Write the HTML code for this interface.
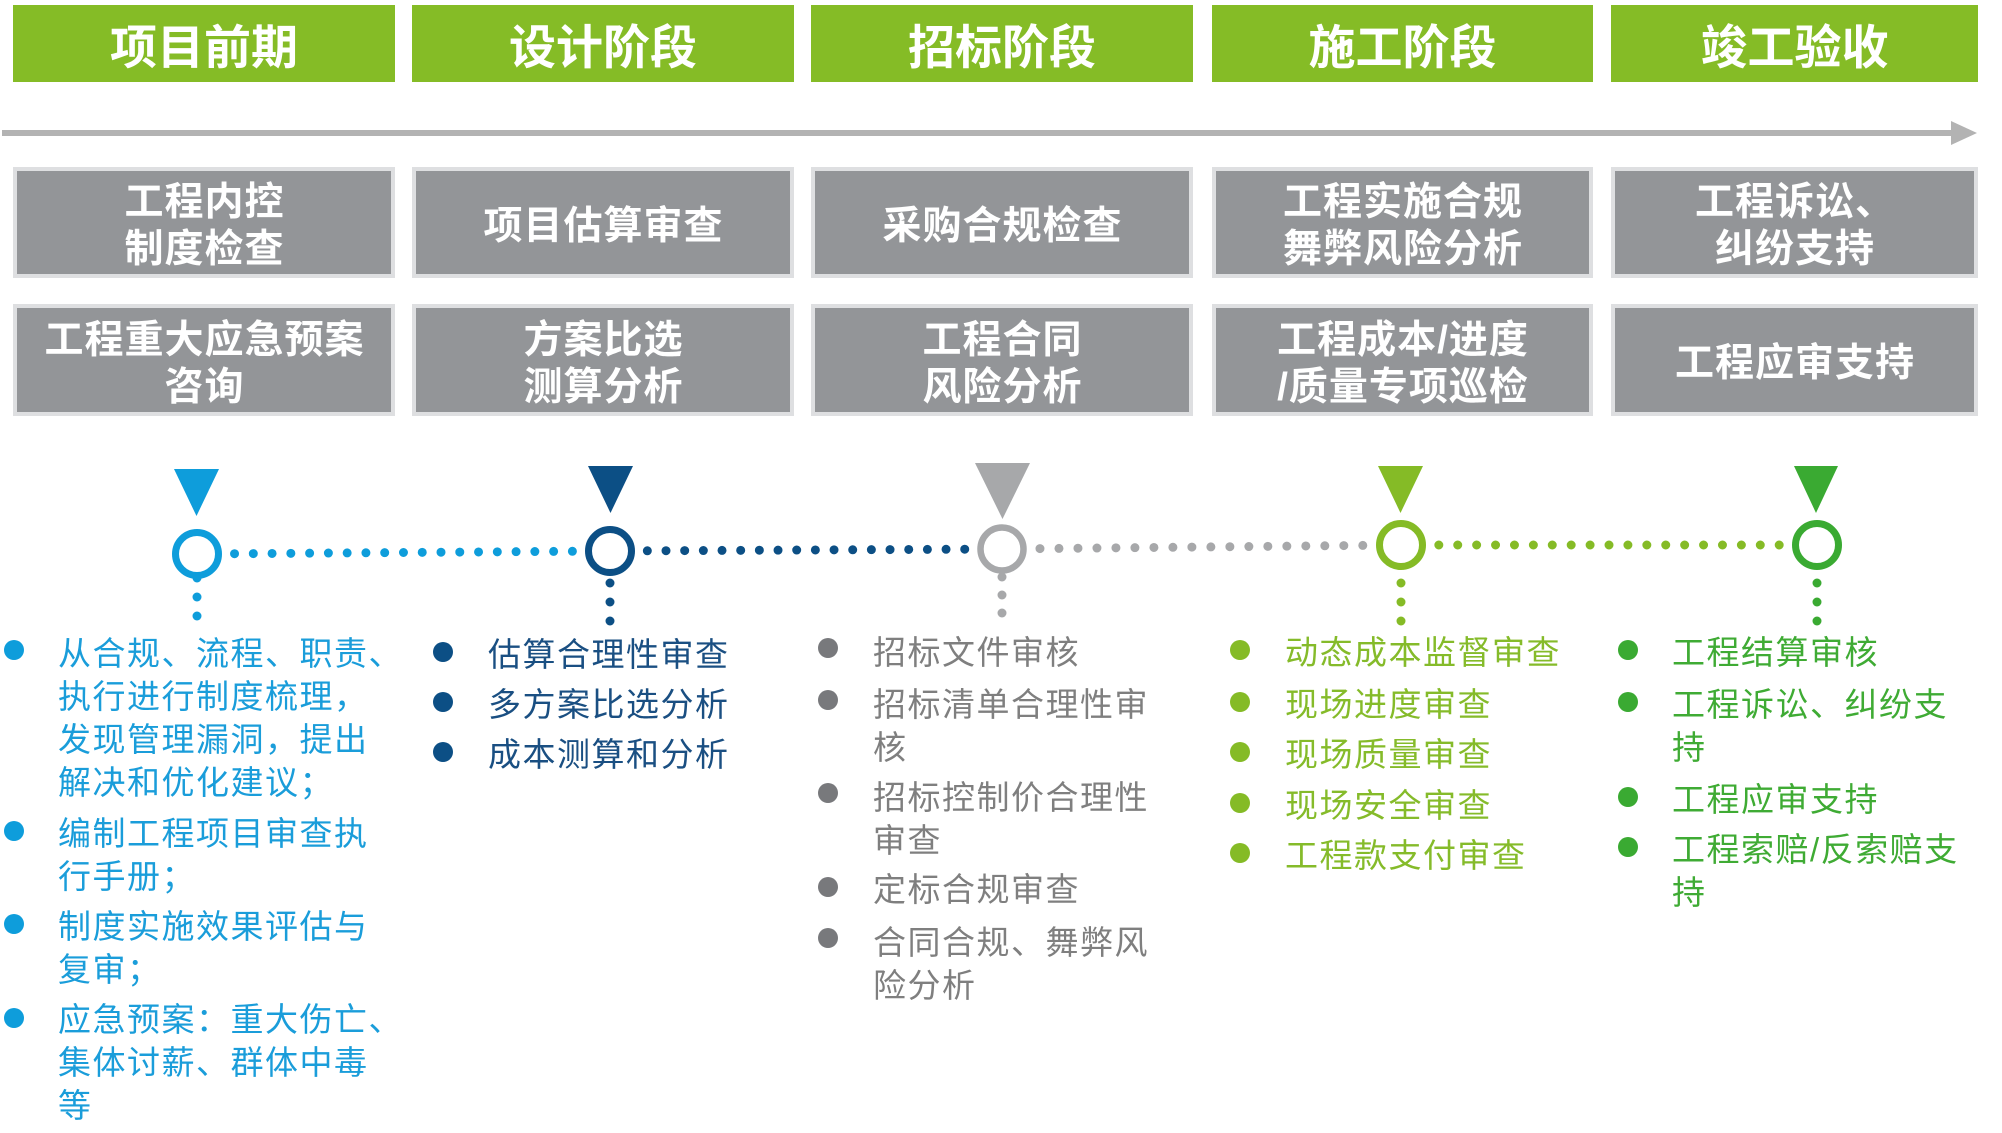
<!DOCTYPE html>
<html>
<head>
<meta charset="utf-8">
<style>
  html, body { margin:0; padding:0; }
  body { width:2002px; height:1133px; position:relative; overflow:hidden; background:#ffffff;
         font-family:"Liberation Sans","Noto Sans CJK SC",sans-serif; }
  .hdr { position:absolute; top:5px; height:77px; background:#85bc26; color:#fff;
         font-family:"Liberation Sans","Noto Sans CJK SC",sans-serif; font-weight:700; font-size:47px;
         display:flex; align-items:center; justify-content:center; line-height:1; padding-top:7px; box-sizing:border-box; }
  .gbox { position:absolute; background:#939598; border:4px solid #dedfe1; box-sizing:border-box; color:#fff;
          font-family:"Liberation Sans","Noto Sans CJK SC",sans-serif; font-weight:700; font-size:39px; letter-spacing:1px;
          line-height:47px; display:flex; align-items:center; justify-content:center; text-align:center;
          padding-top:7px; padding-left:1px; }
  .r1 { top:167px; height:111px; }
  .r2 { top:304px; height:112px; }
  .c1 { left:13px; width:382px; }
  .c2 { left:412px; width:382px; }
  .c3 { left:811px; width:382px; }
  .c4 { left:1212px; width:381px; }
  .c5 { left:1611px; width:367px; }
  .item { position:absolute; font-family:"Liberation Sans","Noto Sans CJK SC",sans-serif; font-weight:400;
          font-size:33px; letter-spacing:1.5px; line-height:43px; white-space:nowrap; }
  .dot { position:absolute; width:20px; height:20px; border-radius:50%; }
  .blue { color:#1a9dda; } .bblue { background:#0e9ddb; }
  .dblue { color:#1a4f82; } .bdblue { background:#0c4f85; }
  .gray { color:#7f7f7f; } .bgray { background:#78797c; }
  .lg { color:#85bb2a; } .blg { background:#85bb26; }
  .dg { color:#3fab34; } .bdg { background:#3aaa32; }
</style>
</head>
<body>

<!-- Header stage boxes -->
<div class="hdr c1">项目前期</div>
<div class="hdr c2">设计阶段</div>
<div class="hdr c3">招标阶段</div>
<div class="hdr c4">施工阶段</div>
<div class="hdr c5">竣工验收</div>

<!-- Timeline arrow + markers -->
<svg style="position:absolute;left:0;top:0" width="2002" height="1133" viewBox="0 0 2002 1133">
  <rect x="2" y="130" width="1953" height="6" fill="#b3b3b3"/>
  <polygon points="1951,121 1977,133 1951,145" fill="#b3b3b3"/>

  <!-- triangles -->
  <polygon points="174,469 219,469 196.5,516" fill="#0e9ddb"/>
  <polygon points="588,466 633,466 610.5,513" fill="#0c4f85"/>
  <polygon points="975,463 1030,463 1002.5,519" fill="#a7a8aa"/>
  <polygon points="1378,466 1423,466 1400.5,513" fill="#85bb26"/>
  <polygon points="1794,466 1838,466 1816,513" fill="#3aaa32"/>

  <!-- horizontal dotted connectors -->
  <g stroke-width="9" stroke-linecap="round" fill="none">
    <line x1="178" y1="554" x2="197" y2="554" stroke="#0e9ddb" stroke-dasharray="0 18.7"/>
    <line x1="197" y1="554" x2="610" y2="551" stroke="#0e9ddb" stroke-dasharray="0 18.77"/>
    <line x1="610" y1="551" x2="1002" y2="549" stroke="#0c4f85" stroke-dasharray="0 18.67"/>
    <line x1="1002" y1="549" x2="1401" y2="545" stroke="#a7a8aa" stroke-dasharray="0 18.99"/>
    <line x1="1401" y1="545" x2="1817" y2="545" stroke="#85bb26" stroke-dasharray="0 18.91"/>
  </g>

  <!-- vertical dots -->
  <g>
    <circle cx="197" cy="578" r="4.5" fill="#0e9ddb"/>
    <circle cx="197" cy="597" r="4.5" fill="#0e9ddb"/>
    <circle cx="197" cy="616" r="4.5" fill="#0e9ddb"/>
    <circle cx="610" cy="583" r="4.5" fill="#0c4f85"/>
    <circle cx="610" cy="602" r="4.5" fill="#0c4f85"/>
    <circle cx="610" cy="621" r="4.5" fill="#0c4f85"/>
    <circle cx="1002" cy="577" r="4.5" fill="#a7a8aa"/>
    <circle cx="1002" cy="595" r="4.5" fill="#a7a8aa"/>
    <circle cx="1002" cy="613" r="4.5" fill="#a7a8aa"/>
    <circle cx="1401" cy="583" r="4.5" fill="#85bb26"/>
    <circle cx="1401" cy="602" r="4.5" fill="#85bb26"/>
    <circle cx="1401" cy="621" r="4.5" fill="#85bb26"/>
    <circle cx="1817" cy="583" r="4.5" fill="#3aaa32"/>
    <circle cx="1817" cy="602" r="4.5" fill="#3aaa32"/>
    <circle cx="1817" cy="621" r="4.5" fill="#3aaa32"/>
  </g>

  <!-- ring markers -->
  <circle cx="197" cy="554" r="21.5" fill="#fff" stroke="#0e9ddb" stroke-width="7"/>
  <circle cx="610" cy="551" r="21.5" fill="#fff" stroke="#0c4f85" stroke-width="7"/>
  <circle cx="1002" cy="549" r="21.5" fill="#fff" stroke="#a7a8aa" stroke-width="6.5"/>
  <circle cx="1401" cy="545" r="21.5" fill="#fff" stroke="#85bb26" stroke-width="7"/>
  <circle cx="1817" cy="545" r="21.5" fill="#fff" stroke="#3aaa32" stroke-width="7"/>
</svg>

<!-- Gray boxes row 1 -->
<div class="gbox r1 c1">工程内控<br>制度检查</div>
<div class="gbox r1 c2">项目估算审查</div>
<div class="gbox r1 c3">采购合规检查</div>
<div class="gbox r1 c4">工程实施合规<br>舞弊风险分析</div>
<div class="gbox r1 c5">工程诉讼、<br>纠纷支持</div>

<!-- Gray boxes row 2 -->
<div class="gbox r2 c1">工程重大应急预案<br>咨询</div>
<div class="gbox r2 c2">方案比选<br>测算分析</div>
<div class="gbox r2 c3">工程合同<br>风险分析</div>
<div class="gbox r2 c4">工程成本/进度<br>/质量专项巡检</div>
<div class="gbox r2 c5">工程应审支持</div>

<!-- Column 1 -->
<div class="dot bblue" style="left:4px;top:640px"></div>
<div class="item blue" style="left:58px;top:632px">从合规、流程、职责、<br>执行进行制度梳理，<br>发现管理漏洞，提出<br>解决和优化建议；</div>
<div class="dot bblue" style="left:4px;top:821px"></div>
<div class="item blue" style="left:58px;top:812px">编制工程项目审查执<br>行手册；</div>
<div class="dot bblue" style="left:4px;top:914px"></div>
<div class="item blue" style="left:58px;top:905px">制度实施效果评估与<br>复审；</div>
<div class="dot bblue" style="left:4px;top:1008px"></div>
<div class="item blue" style="left:58px;top:998px">应急预案：重大伤亡、<br>集体讨薪、群体中毒<br>等</div>

<!-- Column 2 -->
<div class="dot bdblue" style="left:433px;top:642px"></div>
<div class="item dblue" style="left:488px;top:633px">估算合理性审查</div>
<div class="dot bdblue" style="left:433px;top:692px"></div>
<div class="item dblue" style="left:488px;top:683px">多方案比选分析</div>
<div class="dot bdblue" style="left:433px;top:742px"></div>
<div class="item dblue" style="left:488px;top:733px">成本测算和分析</div>

<!-- Column 3 -->
<div class="dot bgray" style="left:818px;top:638px"></div>
<div class="item gray" style="left:873px;top:631px">招标文件审核</div>
<div class="dot bgray" style="left:818px;top:690px"></div>
<div class="item gray" style="left:873px;top:683px">招标清单合理性审<br>核</div>
<div class="dot bgray" style="left:818px;top:783px"></div>
<div class="item gray" style="left:873px;top:776px">招标控制价合理性<br>审查</div>
<div class="dot bgray" style="left:818px;top:877px"></div>
<div class="item gray" style="left:873px;top:868px">定标合规审查</div>
<div class="dot bgray" style="left:818px;top:928px"></div>
<div class="item gray" style="left:873px;top:921px">合同合规、舞弊风<br>险分析</div>

<!-- Column 4 -->
<div class="dot blg" style="left:1230px;top:640px"></div>
<div class="item lg" style="left:1285px;top:631px">动态成本监督审查</div>
<div class="dot blg" style="left:1230px;top:692px"></div>
<div class="item lg" style="left:1285px;top:683px">现场进度审查</div>
<div class="dot blg" style="left:1230px;top:742px"></div>
<div class="item lg" style="left:1285px;top:733px">现场质量审查</div>
<div class="dot blg" style="left:1230px;top:793px"></div>
<div class="item lg" style="left:1285px;top:784px">现场安全审查</div>
<div class="dot blg" style="left:1230px;top:843px"></div>
<div class="item lg" style="left:1285px;top:834px">工程款支付审查</div>

<!-- Column 5 -->
<div class="dot bdg" style="left:1618px;top:640px"></div>
<div class="item dg" style="left:1672px;top:631px">工程结算审核</div>
<div class="dot bdg" style="left:1618px;top:692px"></div>
<div class="item dg" style="left:1672px;top:683px">工程诉讼、纠纷支<br>持</div>
<div class="dot bdg" style="left:1618px;top:787px"></div>
<div class="item dg" style="left:1672px;top:778px">工程应审支持</div>
<div class="dot bdg" style="left:1618px;top:837px"></div>
<div class="item dg" style="left:1672px;top:828px">工程索赔/反索赔支<br>持</div>

</body>
</html>
